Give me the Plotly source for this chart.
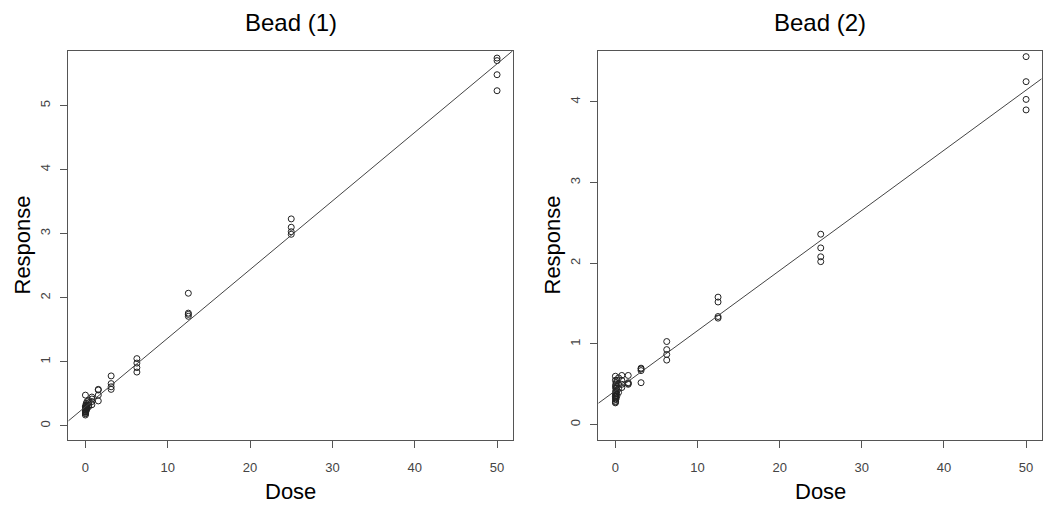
import numpy as np
import plotly.graph_objects as go

# ---- data ----
doses = [50, 25, 12.5, 6.25, 3.125, 1.5625, 0.78125, 0.390625, 0.1953, 0.0977, 0.0488, 0.0244, 0.0122, 0.0]

bead1_response = [
    [5.74, 5.70, 5.48, 5.23],
    [3.23, 3.10, 3.03, 2.99],
    [2.07, 1.76, 1.74, 1.71],
    [1.05, 0.98, 0.91, 0.84],
    [0.78, 0.66, 0.61, 0.57],
    [0.57, 0.56, 0.48, 0.39],
    [0.45, 0.42, 0.38, 0.33],
    [0.40, 0.36, 0.32, 0.30],
    [0.38, 0.33, 0.29, 0.27],
    [0.35, 0.31, 0.27, 0.24],
    [0.32, 0.28, 0.25, 0.22],
    [0.30, 0.26, 0.23, 0.20],
    [0.28, 0.25, 0.22, 0.19],
    [0.48, 0.30, 0.22, 0.17],
]

bead2_response = [
    [4.56, 4.25, 4.03, 3.90],
    [2.36, 2.19, 2.08, 2.02],
    [1.58, 1.52, 1.34, 1.32],
    [1.03, 0.93, 0.87, 0.80],
    [0.70, 0.69, 0.67, 0.52],
    [0.61, 0.52, 0.51, 0.50],
    [0.61, 0.55, 0.50, 0.46],
    [0.58, 0.50, 0.45, 0.40],
    [0.55, 0.47, 0.42, 0.36],
    [0.52, 0.45, 0.38, 0.33],
    [0.50, 0.42, 0.36, 0.31],
    [0.48, 0.40, 0.34, 0.29],
    [0.46, 0.38, 0.32, 0.28],
    [0.60, 0.55, 0.35, 0.27],
]

# fitted lines (intercept, slope)
bead1_fit = (0.30, 0.107)
bead2_fit = (0.42, 0.0745)

titles = ["Bead (1)", "Bead (2)"]
x_tick_vals = [0, 10, 20, 30, 40, 50]
y1_tick_vals = [0, 1, 2, 3, 4, 5]
y2_tick_vals = [0, 1, 2, 3, 4]

x_range = [-2.08, 51.9]
y1_range = [-0.22, 5.85]
y2_range = [-0.19, 4.63]

# ---- figure ----
W, H = 1050, 509
fig = go.Figure()

FONT = "Liberation Sans, Arial, sans-serif"
AX = "#555555"

def add_panel(idx, resp, fit):
    xs, ys = [], []
    for d, vals in zip(doses, resp):
        for v in vals:
            xs.append(d)
            ys.append(v)
    xa = "x" if idx == 1 else "x2"
    ya = "y" if idx == 1 else "y2"
    fig.add_trace(go.Scatter(
        x=xs, y=ys, mode="markers", xaxis=xa, yaxis=ya,
        marker=dict(symbol="circle-open", size=6, color="#222222",
                    line=dict(width=1, color="#222222")),
        showlegend=False, hoverinfo="x+y"))
    b0, b1 = fit
    lx = np.array(x_range)
    fig.add_trace(go.Scatter(
        x=lx, y=b0 + b1 * lx, mode="lines", xaxis=xa, yaxis=ya,
        line=dict(color="#444444", width=1), showlegend=False,
        hoverinfo="skip"))

add_panel(1, bead1_response, bead1_fit)
add_panel(2, bead2_response, bead2_fit)

def px_x(p):
    return p / W

def px_y(p):
    return (H - p) / H

dom_y = [px_y(440), px_y(51)]
dom_x1 = [px_x(68.3), px_x(512.7)]
dom_x2 = [px_x(598.3), px_x(1041.7)]

common_x = dict(range=x_range, tickvals=x_tick_vals, ticks="outside", ticklen=7,
                tickcolor=AX, tickwidth=1, showline=True, linecolor=AX, linewidth=1,
                mirror=True, showgrid=False, zeroline=False,
                tickfont=dict(family=FONT, size=13, color="#444444"),
                ticklabelstandoff=8)
common_y = dict(ticks="outside", ticklen=7, tickcolor=AX, tickwidth=1,
                showline=True, linecolor=AX, linewidth=1, mirror=True,
                showgrid=False, zeroline=False, tickangle=-90,
                tickfont=dict(family=FONT, size=13, color="#444444"),
                ticklabelstandoff=5)

fig.update_layout(
    width=W, height=H,
    margin=dict(l=0, r=0, t=0, b=0),
    paper_bgcolor="white", plot_bgcolor="white",
    font=dict(family=FONT, color="black"),
    xaxis=dict(domain=dom_x1, anchor="y", **common_x),
    yaxis=dict(domain=dom_y, anchor="x", range=y1_range, tickvals=y1_tick_vals, **common_y),
    xaxis2=dict(domain=dom_x2, anchor="y2", **common_x),
    yaxis2=dict(domain=dom_y, anchor="x2", range=y2_range, tickvals=y2_tick_vals, **common_y),
)

ann = []
for dom, title, resp_x in [(dom_x1, titles[0], 22), (dom_x2, titles[1], 552)]:
    cx = (dom[0] + dom[1]) / 2
    ann.append(dict(text=title, x=cx, y=px_y(22), xref="paper", yref="paper",
                    showarrow=False, xanchor="center", yanchor="middle",
                    font=dict(family=FONT, size=24, color="black")))
    ann.append(dict(text="Dose", x=cx, y=px_y(491), xref="paper", yref="paper",
                    showarrow=False, xanchor="center", yanchor="middle",
                    font=dict(family=FONT, size=22, color="black")))
    ann.append(dict(text="Response", x=px_x(resp_x), y=(dom_y[0] + dom_y[1]) / 2,
                    xref="paper", yref="paper", showarrow=False, textangle=-90,
                    xanchor="center", yanchor="middle",
                    font=dict(family=FONT, size=22, color="black")))
fig.update_layout(annotations=ann)

fig.write_html("out.html",
               config={"displayModeBar": False},
               post_script="document.body.style.margin='0';document.body.style.overflow='hidden';")
